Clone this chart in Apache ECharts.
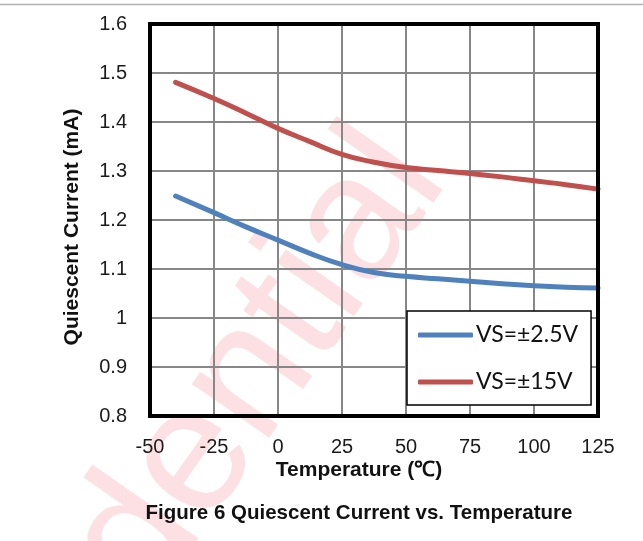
<!DOCTYPE html>
<html>
<head>
<meta charset="utf-8">
<script src="https://cdn.jsdelivr.net/npm/echarts@6/dist/echarts.min.js"></script>
<style>
html,body{margin:0;padding:0;background:#fff;}
#chart{width:643px;height:541px;}
</style>
</head>
<body>
<div id="chart"></div>
<script>
// ---- data ----
var temperatures = [-40, -25, -12.5, 0, 12.5, 25, 37.5, 50, 62.5, 75, 87.5, 100, 112.5, 125];
var vs2p5 = [1.249, 1.215, 1.186, 1.159, 1.132, 1.109, 1.093, 1.085, 1.080, 1.075, 1.070, 1.066, 1.063, 1.061];
var vs15  = [1.481, 1.448, 1.418, 1.387, 1.360, 1.334, 1.318, 1.307, 1.301, 1.295, 1.288, 1.280, 1.272, 1.263];
var seriesNames = ['VS=±2.5V', 'VS=±15V'];
var xTicks = [-50, -25, 0, 25, 50, 75, 100, 125];
var yTicks = [0.8, 0.9, 1, 1.1, 1.2, 1.3, 1.4, 1.5, 1.6];
var xTitle = 'Temperature (℃)';
var yTitle = 'Quiescent Current (mA)';
var figTitle = 'Figure 6 Quiescent Current vs. Temperature';
var watermark = 'dential';

function pairs(xs, ys){ return xs.map(function(x,i){ return [x, ys[i]]; }); }

var chart = echarts.init(document.getElementById('chart'), null, {renderer:'canvas'});
var font = 'Liberation Sans, Arial, sans-serif';
chart.setOption({
  animation: false,
  backgroundColor: '#fff',
  grid: {left:150, right:45, top:24, bottom:125, show:true, borderColor:'#000', borderWidth:4, backgroundColor:'transparent', z:3},
  xAxis: {
    type:'value', min: xTicks[0], max: xTicks[xTicks.length-1], interval: 25,
    axisLine:{show:false}, axisTick:{show:false},
    splitLine:{show:true, lineStyle:{color:'#878787', width:2}},
    axisLabel:{fontFamily:font, fontSize:20, color:'#1a1a1a', margin:21}
  },
  yAxis: {
    type:'value', min: yTicks[0], max: yTicks[yTicks.length-1], interval: 0.1,
    axisLine:{show:false}, axisTick:{show:false},
    splitLine:{show:true, lineStyle:{color:'#878787', width:2}},
    axisLabel:{fontFamily:font, fontSize:20, color:'#1a1a1a', margin:23,
      formatter:function(v){ return String(Math.round(v*10)/10); }}
  },
  legend: {
    left:407, top:311, orient:'vertical',
    padding:[11,13,10,11], itemGap:21,
    backgroundColor:'#fff', borderColor:'#000', borderWidth:1.5,
    icon:'roundRect', itemWidth:55, itemHeight:5, itemStyle:{borderWidth:0},
    textStyle:{fontFamily:'Lato, Carlito, sans-serif', fontSize:23, color:'#111', lineHeight:26, padding:[0,0,0,-2]},
    data: seriesNames
  },
  graphic: [
    {type:'line', z:-1, shape:{x1:0, y1:4.5, x2:643, y2:4.5}, style:{stroke:'#b0b0b0', lineWidth:1.5}},
    {type:'text', z:-5, x:409, y:152, rotation:55*Math.PI/180,
      style:{text:watermark, font:'178px Liberation Sans, Arial, sans-serif', fill:'#fde0e3', textAlign:'right', textVerticalAlign:'middle'}},
    {type:'text', x:359, y:470, style:{text:xTitle, font:'bold 21px Liberation Sans, Arial, sans-serif', fill:'#111', textAlign:'center', textVerticalAlign:'middle'}},
    {type:'text', x:72, y:227, rotation:Math.PI/2, style:{text:yTitle, font:'bold 21px Liberation Sans, Arial, sans-serif', fill:'#111', textAlign:'center', textVerticalAlign:'middle'}},
    {type:'text', x:359, y:513, style:{text:figTitle, font:'bold 20.5px Liberation Sans, Arial, sans-serif', fill:'#111', textAlign:'center', textVerticalAlign:'middle'}}
  ],
  series: [
    {name:seriesNames[0], type:'line', data:pairs(temperatures, vs2p5), smooth:0.5, showSymbol:false, symbol:'none',
      lineStyle:{color:'#4F81BD', width:5, cap:'round'}, itemStyle:{color:'#4F81BD'}, z:2},
    {name:seriesNames[1], type:'line', data:pairs(temperatures, vs15), smooth:0.5, showSymbol:false, symbol:'none',
      lineStyle:{color:'#C0504D', width:5, cap:'round'}, itemStyle:{color:'#C0504D'}, z:2}
  ]
});
</script>
</body>
</html>
